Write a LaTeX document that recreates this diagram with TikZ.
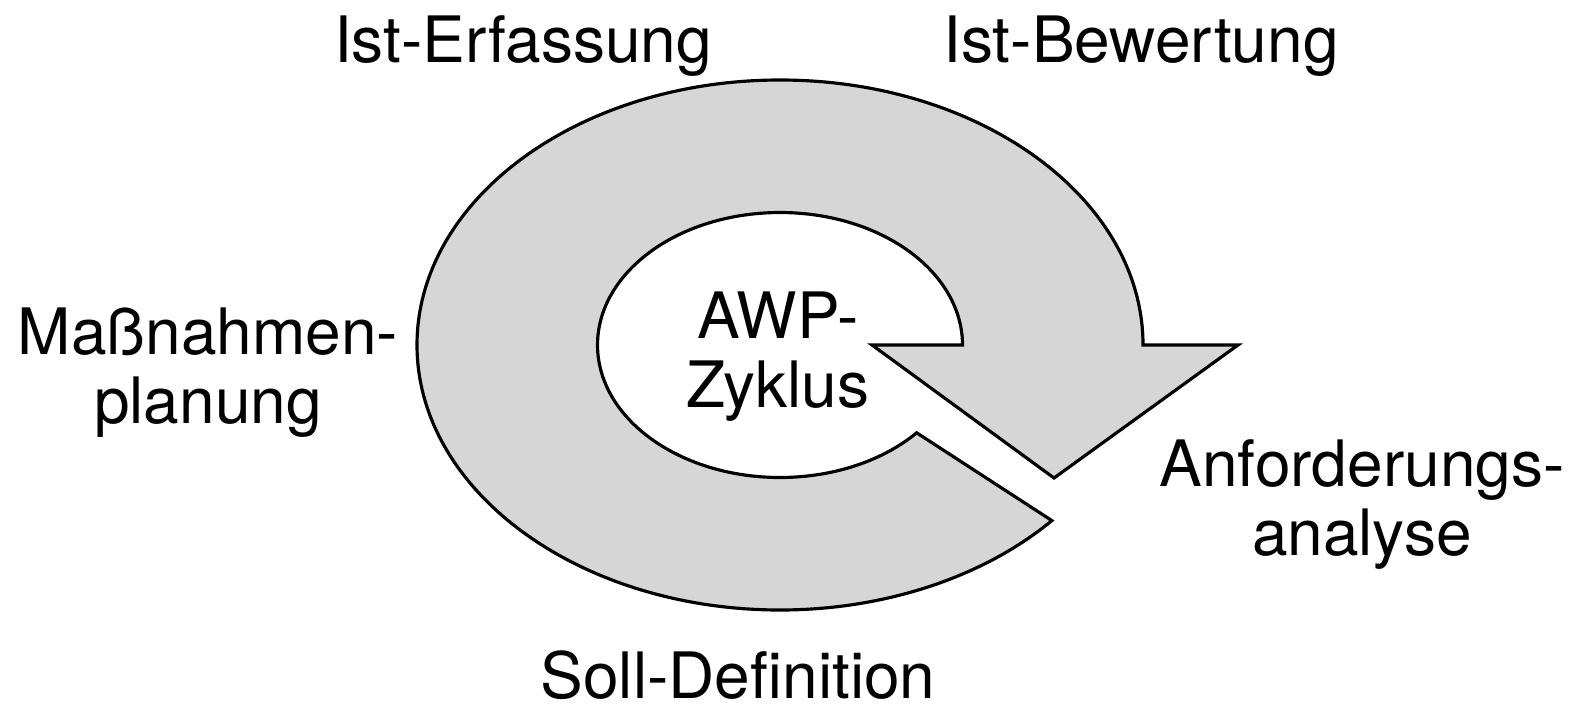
\documentclass[tikz,border=0pt]{standalone}
\usepackage{fontspec}
\setmainfont{TeX Gyre Heros}
\definecolor{ringgray}{RGB}{214,214,214}

\begin{document}
\begin{tikzpicture}[x=0.01cm,y=0.01cm,
    ring/.style={draw=black,fill=ringgray,line width=0.9pt,line join=miter},
    phase/.style={anchor=base,align=center,inner sep=0pt,font=\fontsize{18.2}{19.6}\selectfont}]
    \useasboundingbox (0,0) rectangle (1573,-709);
    \coordinate (c) at (780,-345);
    \draw[ring] ([shift={(c)}]0:363 and 265) arc[start angle=0,end angle=318.5,x radius=363,y radius=265]
      -- ([shift={(c)}]318.5:182.5 and 132.5) arc[start angle=318.5,end angle=0,x radius=182.5,y radius=132.5]
      -- (872,-345) -- (1054,-478) -- (1238,-345) -- cycle;
    \node[phase] (erfassung) at (523,-62) {Ist-Erfassung};
    \node[phase] (bewertung) at (1141,-62) {Ist-Bewertung};
    \node[phase] (anforderung) at (1362,-555) {Anforderungs-\\analyse};
    \node[phase] (soll) at (738,-698) {Soll-Definition};
    \node[phase] (massnahmen) at (208,-423) {Maßnahmen-\\planung};
    \node[phase] (awp) at (778,-407) {AWP-\\Zyklus};
  \end{tikzpicture}
\end{document}
